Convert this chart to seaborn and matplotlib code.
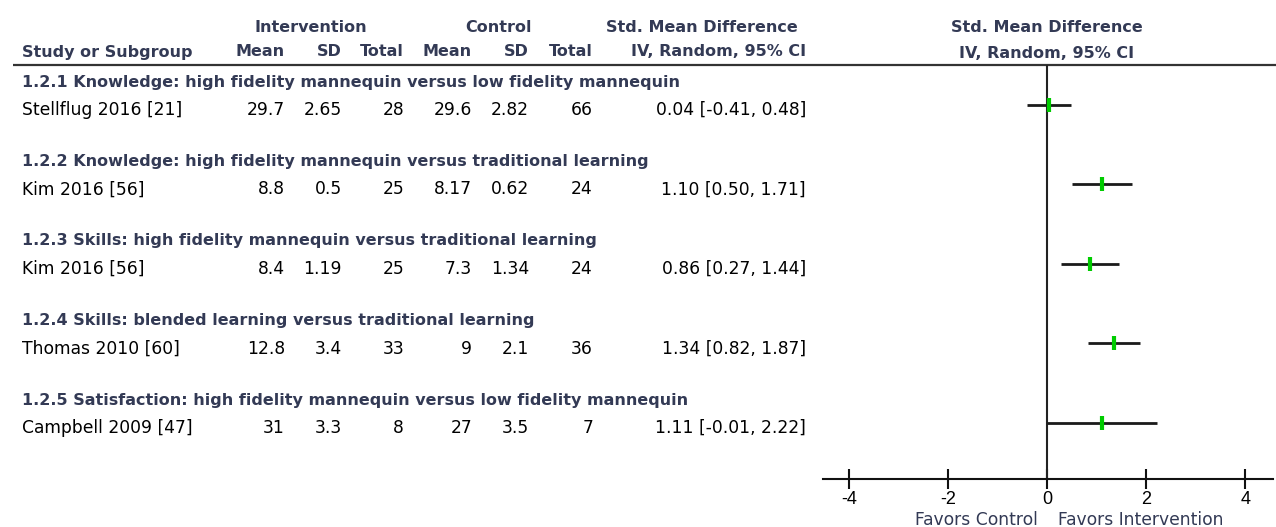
import numpy as np
import pandas as pd
import matplotlib
matplotlib.use("Agg")
import matplotlib.pyplot as plt
import seaborn as sns

# data
subgroups = [
    "1.2.1 Knowledge: high fidelity mannequin versus low fidelity mannequin",
    "1.2.2 Knowledge: high fidelity mannequin versus traditional learning",
    "1.2.3 Skills: high fidelity mannequin versus traditional learning",
    "1.2.4 Skills: blended learning versus traditional learning",
    "1.2.5 Satisfaction: high fidelity mannequin versus low fidelity mannequin",
]
studies = ["Stellflug 2016 [21]", "Kim 2016 [56]", "Kim 2016 [56]",
           "Thomas 2010 [60]", "Campbell 2009 [47]"]
int_mean = [29.7, 8.8, 8.4, 12.8, 31]
int_sd = [2.65, 0.5, 1.19, 3.4, 3.3]
int_total = [28, 25, 25, 33, 8]
ctl_mean = [29.6, 8.17, 7.3, 9, 27]
ctl_sd = [2.82, 0.62, 1.34, 2.1, 3.5]
ctl_total = [66, 24, 24, 36, 7]
smd = [0.04, 1.10, 0.86, 1.34, 1.11]
ci_lo = [-0.41, 0.50, 0.27, 0.82, -0.01]
ci_hi = [0.48, 1.71, 1.44, 1.87, 2.22]
x_ticks = [-4, -2, 0, 2, 4]

df = pd.DataFrame({"study": studies, "smd": smd, "lo": ci_lo, "hi": ci_hi})

sns.set_theme(style="white")
plt.rcParams["font.family"] = ["DejaVu Sans"]

W, H = 1276, 527
fig = plt.figure(figsize=(W / 100, H / 100), dpi=100)

# overlay axes in pixel units for the table text
tab = fig.add_axes([0, 0, 1, 1])
tab.set_xlim(0, W)
tab.set_ylim(H, 0)
tab.axis("off")

# forest plot axes: x axis line at y=479, top at header line y=65
fx0, fx1, fy_top, fy_axis = 823, 1273, 65, 479
ax = fig.add_axes([fx0 / W, (H - fy_axis) / H, (fx1 - fx0) / W, (fy_axis - fy_top) / H])
ax.set_xlim(-4.53, 4.56)
ax.set_ylim(fy_axis, fy_top)
ax.patch.set_alpha(0)

head_col = "#333a55"
fs = 12.3
bold = dict(fontsize=11.5, fontweight="bold", color=head_col)
reg = dict(fontsize=fs, color="black")

# column headers
tab.text(311, 27, "Intervention", ha="center", va="center", **bold)
tab.text(499, 27, "Control", ha="center", va="center", **bold)
tab.text(702, 27, "Std. Mean Difference", ha="center", va="center", **bold)
tab.text(1047, 27, "Std. Mean Difference", ha="center", va="center", **bold)
tab.text(22, 52, "Study or Subgroup", ha="left", va="center", **bold)
col_right = [285, 342, 404, 472, 529, 593, 806]
for x, lab in zip(col_right, ["Mean", "SD", "Total", "Mean", "SD", "Total",
                               "IV, Random, 95% CI"]):
    tab.text(x, 52, lab, ha="right", va="center", **bold)
tab.text(1047, 53, "IV, Random, 95% CI", ha="center", va="center", **bold)
tab.hlines(65, 13, W, color="#333333", lw=1.6)

# rows
group_step = 79.5
text_y = []
for i, (g, s) in enumerate(zip(subgroups, studies)):
    yh = 82 + group_step * i
    ys = yh + 28
    text_y.append(ys)
    tab.text(22, yh, g, ha="left", va="center", **bold)
    tab.text(22, ys, s, ha="left", va="center", **reg)
    vals = [f"{int_mean[i]:g}", f"{int_sd[i]:g}", f"{int_total[i]}",
            f"{ctl_mean[i]:g}", f"{ctl_sd[i]:g}", f"{ctl_total[i]}",
            f"{smd[i]:.2f} [{ci_lo[i]:.2f}, {ci_hi[i]:.2f}]"]
    for x, v in zip(col_right, vals):
        tab.text(x, ys, v, ha="right", va="center", **reg)

# forest marks
df["y"] = [y - 5 for y in text_y]
ax.axvline(0, color="#222222", lw=1.5, zorder=1)
ax.hlines(df["y"], df["lo"], df["hi"], color="#1a1a1a", lw=2, zorder=2)
sns.scatterplot(data=df, x="smd", y="y", marker="|", s=95, color="#00cc00",
                linewidth=3, ax=ax, zorder=3, legend=False)

for side in ["top", "left", "right"]:
    ax.spines[side].set_visible(False)
ax.spines["bottom"].set_color("#111111")
ax.spines["bottom"].set_linewidth(1.5)
ax.set_yticks([])
ax.set_xticks(x_ticks)
ax.set_xticklabels([str(t) for t in x_ticks], fontfamily="Liberation Sans")
ax.tick_params(axis="x", direction="inout", length=15, width=1.5, color="#111111",
               labelsize=13, labelcolor="black", pad=1, bottom=True)
ax.set_xlabel("")
ax.set_ylabel("")

tab.text(1038, 520, "Favors Control", ha="right", va="center", fontsize=fs, color=head_col)
tab.text(1058, 520, "Favors Intervention", ha="left", va="center", fontsize=fs, color=head_col)

fig.savefig("out.png", dpi=100)
